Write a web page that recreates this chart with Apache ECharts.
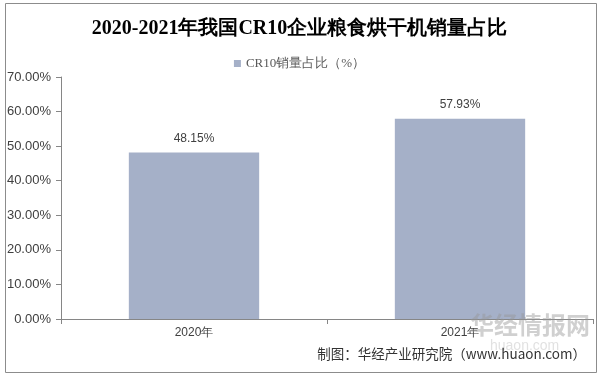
<!DOCTYPE html>
<html>
<head>
<meta charset="utf-8">
<script src="https://cdn.jsdelivr.net/npm/echarts@6/dist/echarts.min.js"></script>
<style>
  html, body { margin: 0; padding: 0; background: #fff; }
  #main { width: 599px; height: 376px; }
</style>
</head>
<body>
<div id="main"></div>
<script>
// 数据
var categories = ['2020年', '2021年'];
var shareValues = [48.15, 57.93];
var seriesName = 'CR10销量占比（%）';

var myChart = echarts.init(document.getElementById('main'));

var option = {
    backgroundColor: '#fff',
    animation: false,
    title: {
        text: '2020-2021年我国CR10企业粮食烘干机销量占比',
        left: 'center',
        top: 14,
        textStyle: { fontFamily: 'serif', fontSize: 20, fontWeight: 'bold', color: '#000' }
    },
    legend: {
        data: [seriesName],
        top: 52,
        left: 'center',
        icon: 'rect',
        itemWidth: 7,
        itemHeight: 7,
        itemGap: 4,
        textStyle: { fontSize: 13, color: '#595959', fontFamily: 'serif' }
    },
    grid: { left: 61, right: 6, top: 77, bottom: 57, containLabel: false },
    xAxis: {
        type: 'category',
        data: categories,
        axisLine: { lineStyle: { color: '#868686' } },
        axisTick: { show: true, alignWithLabel: false, length: 5, lineStyle: { color: '#868686' } },
        axisLabel: { color: '#404040', fontSize: 12, fontFamily: 'Liberation Sans', margin: 8 }
    },
    yAxis: {
        type: 'value',
        min: 0,
        max: 70,
        interval: 10,
        splitLine: { show: false },
        axisLine: { show: true, lineStyle: { color: '#868686' } },
        axisTick: { show: true, length: 5, lineStyle: { color: '#868686' } },
        axisLabel: {
            color: '#404040', fontSize: 13, fontFamily: 'Liberation Sans', margin: 10,
            formatter: function (v) { return v.toFixed(2) + '%'; }
        }
    },
    series: [{
        name: seriesName,
        type: 'bar',
        data: shareValues,
        barWidth: '49%',
        itemStyle: { color: '#A5B0C8' },
        label: {
            show: true,
            position: 'top',
            distance: 8,
            color: '#404040',
            fontSize: 12,
            fontFamily: 'Liberation Sans',
            formatter: function (p) { return p.value.toFixed(2) + '%'; }
        }
    }],
    graphic: [
        {
            type: 'rect',
            shape: { x: 5.5, y: 3.5, width: 591, height: 369 },
            style: { fill: 'none', stroke: '#8c8c8c', lineWidth: 1 },
            z: 100
        },
        {
            type: 'text',
            left: 470,
            top: 313,
            style: { text: '华经情报网', fill: 'rgba(150,150,150,0.45)', fontSize: 24, fontWeight: 'bold', fontFamily: 'Noto Sans CJK SC' },
            z: 50
        },
        {
            type: 'text',
            left: 490,
            top: 339,
            style: { text: 'huaon.com', fill: 'rgba(170,170,170,0.35)', fontSize: 14, fontFamily: 'Liberation Sans' },
            z: 50
        },
        {
            type: 'text',
            right: 13,
            top: 347,
            style: { text: '制图：华经产业研究院（www.huaon.com）', fill: '#333', fontSize: 13.5, fontFamily: 'Noto Sans CJK SC' },
            z: 60
        }
    ]
};

myChart.setOption(option);
</script>
</body>
</html>
